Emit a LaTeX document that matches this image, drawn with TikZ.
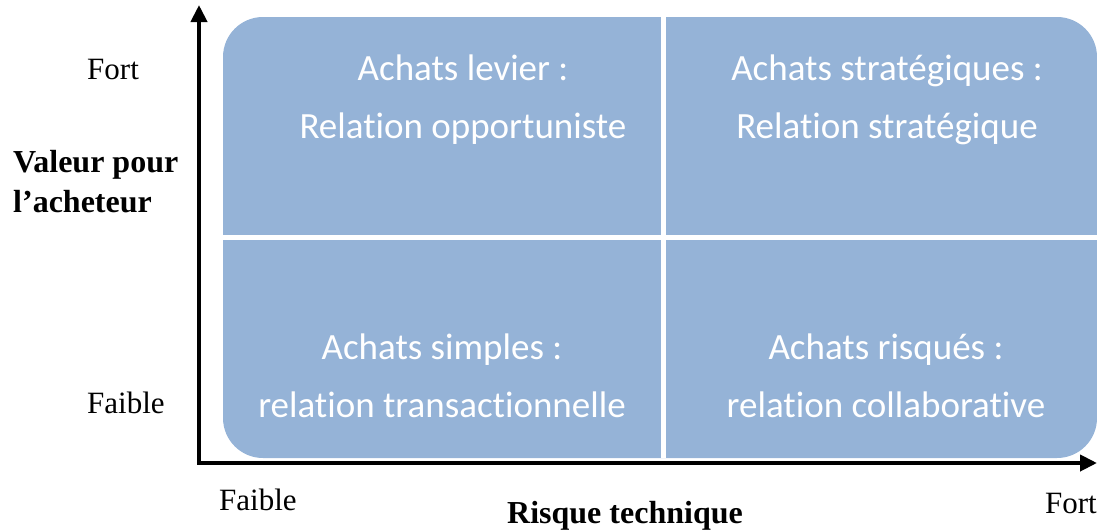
\documentclass[tikz,border=0pt]{standalone}
\usepackage{fontspec}
\setmainfont{Liberation Serif}
\newfontfamily\calibri[Ligatures=NoCommon]{Carlito}
\usepackage{xcolor}
\usepackage{tikz}
\usetikzlibrary{arrows.meta}
\definecolor{quad}{HTML}{95B3D7}
\tikzset{
  quadFill/.style={fill=quad, rounded corners=40pt},
  quadLine/.style={draw=white, line width=5pt},
  quadText/.style={text=white, font=\calibri\fontsize{37}{58}\selectfont, align=center, anchor=base},
  axisLine/.style={draw=black, line width=4pt, line join=miter, {Triangle[length=17pt,width=16pt]}-{Triangle[length=17pt,width=16pt]}},
  axisLabel/.style={text=black, font=\fontsize{31}{40}\selectfont, inner sep=0pt},
  axisTitle/.style={text=black, font=\bfseries\fontsize{32}{40}\selectfont, inner sep=0pt, align=left}
}
\begin{document}
\begin{tikzpicture}[x=1pt,y=-1pt]
  \useasboundingbox (0,0) rectangle (1097,530);
  \coordinate (NW) at (223,17);
  \coordinate (SE) at (1097,458);
  \coordinate (midTop) at (663,17);
  \coordinate (midBot) at (663,458);
  \coordinate (midLeft) at (223,237);
  \coordinate (midRight) at (1097,237);

  % matrix
  \fill[quadFill] (NW) rectangle (SE);
  \draw[quadLine] (midTop) -- (midBot);
  \draw[quadLine] (midLeft) -- (midRight);

  \node[quadText] (levier) at (463,138) {Achats levier :\\Relation opportuniste};
  \node[quadText] (strategique) at (887,138) {Achats stratégiques :\\Relation stratégique};
  \node[quadText] (simple) at (442,417) {Achats simples :\\relation transactionnelle};
  \node[quadText] (risque) at (886,417) {Achats risqués :\\relation collaborative};

  % axes
  \coordinate (origin) at (199,463);
  \coordinate (yTip) at (199,5);
  \coordinate (xTip) at (1097,463);
  \draw[axisLine] (yTip) -- (origin) -- (xTip);

  \node[axisLabel, anchor=base west] (yFort) at (87,79) {Fort};
  \node[axisLabel, anchor=base west] (yFaible) at (87,413) {Faible};
  \node[axisTitle, anchor=base west] (yTitle) at (13,212) {Valeur pour\\l’acheteur};
  \node[axisLabel, anchor=base west] (xFaible) at (219,510) {Faible};
  \node[axisLabel, anchor=base east] (xFort) at (1097,513) {Fort};
  \node[axisTitle, anchor=base] (xTitle) at (625,523) {Risque technique};
\end{tikzpicture}
\end{document}
